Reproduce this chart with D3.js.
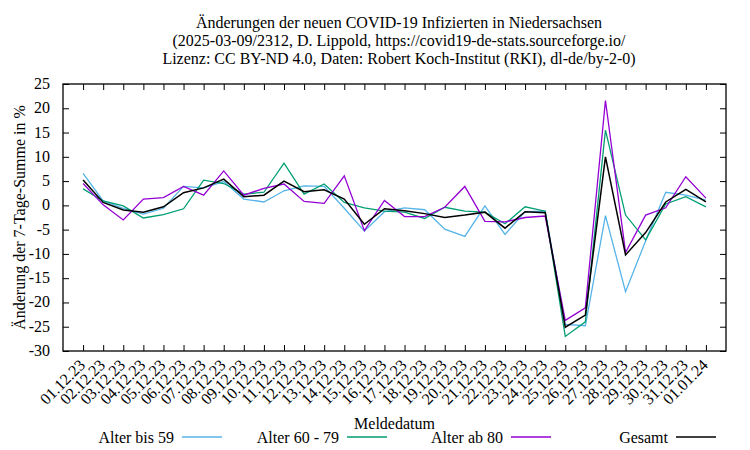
<!DOCTYPE html>
<html><head><meta charset="utf-8">
<script src="https://cdn.jsdelivr.net/npm/d3@7"></script>
<style>body{margin:0;background:#fff}svg{display:block}</style>
</head><body><svg id="c" width="750" height="450" font-family="'Liberation Serif', 'Times New Roman', Times, serif"></svg>
<script>
const dates = ["01.12.23","02.12.23","03.12.23","04.12.23","05.12.23","06.12.23","07.12.23","08.12.23","09.12.23","10.12.23","11.12.23","12.12.23","13.12.23","14.12.23","15.12.23","16.12.23","17.12.23","18.12.23","19.12.23","20.12.23","21.12.23","22.12.23","23.12.23","24.12.23","25.12.23","26.12.23","27.12.23","28.12.23","29.12.23","30.12.23","31.12.23","01.01.24"];
const bis59 = [6.6,0.9,-0.6,-1.8,-0.6,3.9,3.6,4.9,1.3,0.7,3.0,4.0,3.9,-0.6,-5.3,-1.3,-0.5,-0.9,-4.9,-6.4,-0.1,-6.0,-1.3,-1.2,-24.5,-24.8,-2.1,-17.8,-7.3,2.7,2.1,1.1];
const a6079 = [3.4,0.9,-0.1,-2.6,-1.9,-0.7,5.2,4.5,2.3,2.7,8.7,2.3,4.4,0.6,-0.5,-1.2,-1.4,-2.7,-0.4,-1.2,-1.4,-3.8,-0.3,-1.2,-27.0,-24.0,15.5,-2.0,-7.1,0.3,1.8,-0.3];
const ab80 = [4.5,0.1,-3.0,1.3,1.6,3.9,2.1,7.1,2.1,3.5,4.4,0.8,0.4,6.1,-5.2,1.0,-2.3,-2.3,-0.4,3.9,-3.3,-3.4,-2.5,-2.2,-23.7,-21.1,21.6,-9.7,-2.0,-0.5,5.9,1.5];
const gesamt = [5.2,0.6,-0.95,-1.4,-0.3,2.6,3.6,5.4,1.8,2.1,5.0,2.8,3.2,1.3,-3.9,-0.7,-1.1,-1.7,-2.5,-2.0,-1.4,-4.7,-1.3,-1.5,-25.1,-22.6,10.0,-10.2,-5.6,0.7,3.3,0.7];
const yTicks = [-30,-25,-20,-15,-10,-5,0,5,10,15,20,25];
const seriesNames = ["Alter bis 59","Alter 60 - 79","Alter ab 80","Gesamt"];
const seriesColors = ["#56b4e9","#009e73","#9400d3","#000000"];
const titleLines = ["Änderungen der neuen COVID-19 Infizierten in Niedersachsen","(2025-03-09/2312, D. Lippold, https://covid19-de-stats.sourceforge.io/","Lizenz: CC BY-ND 4.0, Daten: Robert Koch-Institut (RKI), dl-de/by-2-0)"];

const svg = d3.select("#c");
const L=63, R=726, T=84, B=351;
const x = d3.scaleLinear().domain([-1, dates.length]).range([L, R]);
const y = d3.scaleLinear().domain([-30, 25]).range([B, T]);
const fs = 16;

svg.append("g").selectAll("text").data(titleLines).join("text")
  .attr("x", 399).attr("y", (d,i)=>28+i*18).attr("text-anchor","middle")
  .attr("font-size", fs).text(d=>d);

const idx = d3.range(dates.length);
const tl = 6;
svg.append("g").attr("transform",`translate(0,${B})`)
  .call(d3.axisBottom(x).tickValues(idx).tickSize(-tl).tickFormat(""))
  .call(g=>{g.select(".domain").remove();});
svg.append("g").attr("transform",`translate(0,${T})`)
  .call(d3.axisTop(x).tickValues(idx).tickSize(-tl).tickFormat(""))
  .call(g=>{g.select(".domain").remove();});
svg.append("g").attr("transform",`translate(${L},0)`)
  .call(d3.axisLeft(y).tickValues(yTicks).tickSize(-tl).tickFormat(""))
  .call(g=>{g.select(".domain").remove();});
svg.append("g").attr("transform",`translate(${R},0)`)
  .call(d3.axisRight(y).tickValues(yTicks).tickSize(-tl).tickFormat(""))
  .call(g=>{g.select(".domain").remove();});
svg.selectAll(".tick line").attr("stroke","#000").attr("stroke-width",1);

svg.append("g").selectAll("text").data(yTicks).join("text")
  .attr("x", 50).attr("y", d=>y(d)+5).attr("text-anchor","end")
  .attr("font-size", fs).text(d=>d);

svg.append("g").selectAll("text").data(dates).join("text")
  .attr("transform",(d,i)=>`translate(${x(i)+3},${366}) rotate(-45)`)
  .attr("text-anchor","end").attr("font-size", fs).text(d=>d);

svg.append("text").attr("transform",`translate(25,${(T+B)/2}) rotate(-90)`)
  .attr("text-anchor","middle").attr("font-size",fs).text("Änderung der 7-Tage-Summe in %");
svg.append("text").attr("x",(L+R)/2).attr("y",429).attr("text-anchor","middle")
  .attr("font-size",fs).text("Meldedatum");

const allSeries = [bis59, a6079, ab80, gesamt];
const line = d3.line().x((d,i)=>x(i)).y(d=>y(d));
svg.append("g").selectAll("path").data(allSeries).join("path")
  .attr("d", d=>line(d)).attr("fill","none")
  .attr("stroke",(d,i)=>seriesColors[i]).attr("stroke-width",(d,i)=>i==3?1.5:1.3)
  .attr("stroke-linejoin","miter");

svg.append("rect").attr("x",L).attr("y",T).attr("width",R-L).attr("height",B-T)
  .attr("fill","none").attr("stroke","#000").attr("stroke-width",1.3);

const lgLineStart = [182,347,511,676];
const lg = svg.append("g").selectAll("g").data(seriesNames).join("g");
lg.append("text").attr("x",(d,i)=>lgLineStart[i]-8).attr("y",443).attr("text-anchor","end")
  .attr("font-size",fs).text(d=>d);
lg.append("line").attr("x1",(d,i)=>lgLineStart[i]).attr("x2",(d,i)=>lgLineStart[i]+40)
  .attr("y1",437).attr("y2",437).attr("stroke",(d,i)=>seriesColors[i]).attr("stroke-width",(d,i)=>i==3?1.5:1.3);
</script></body></html>
